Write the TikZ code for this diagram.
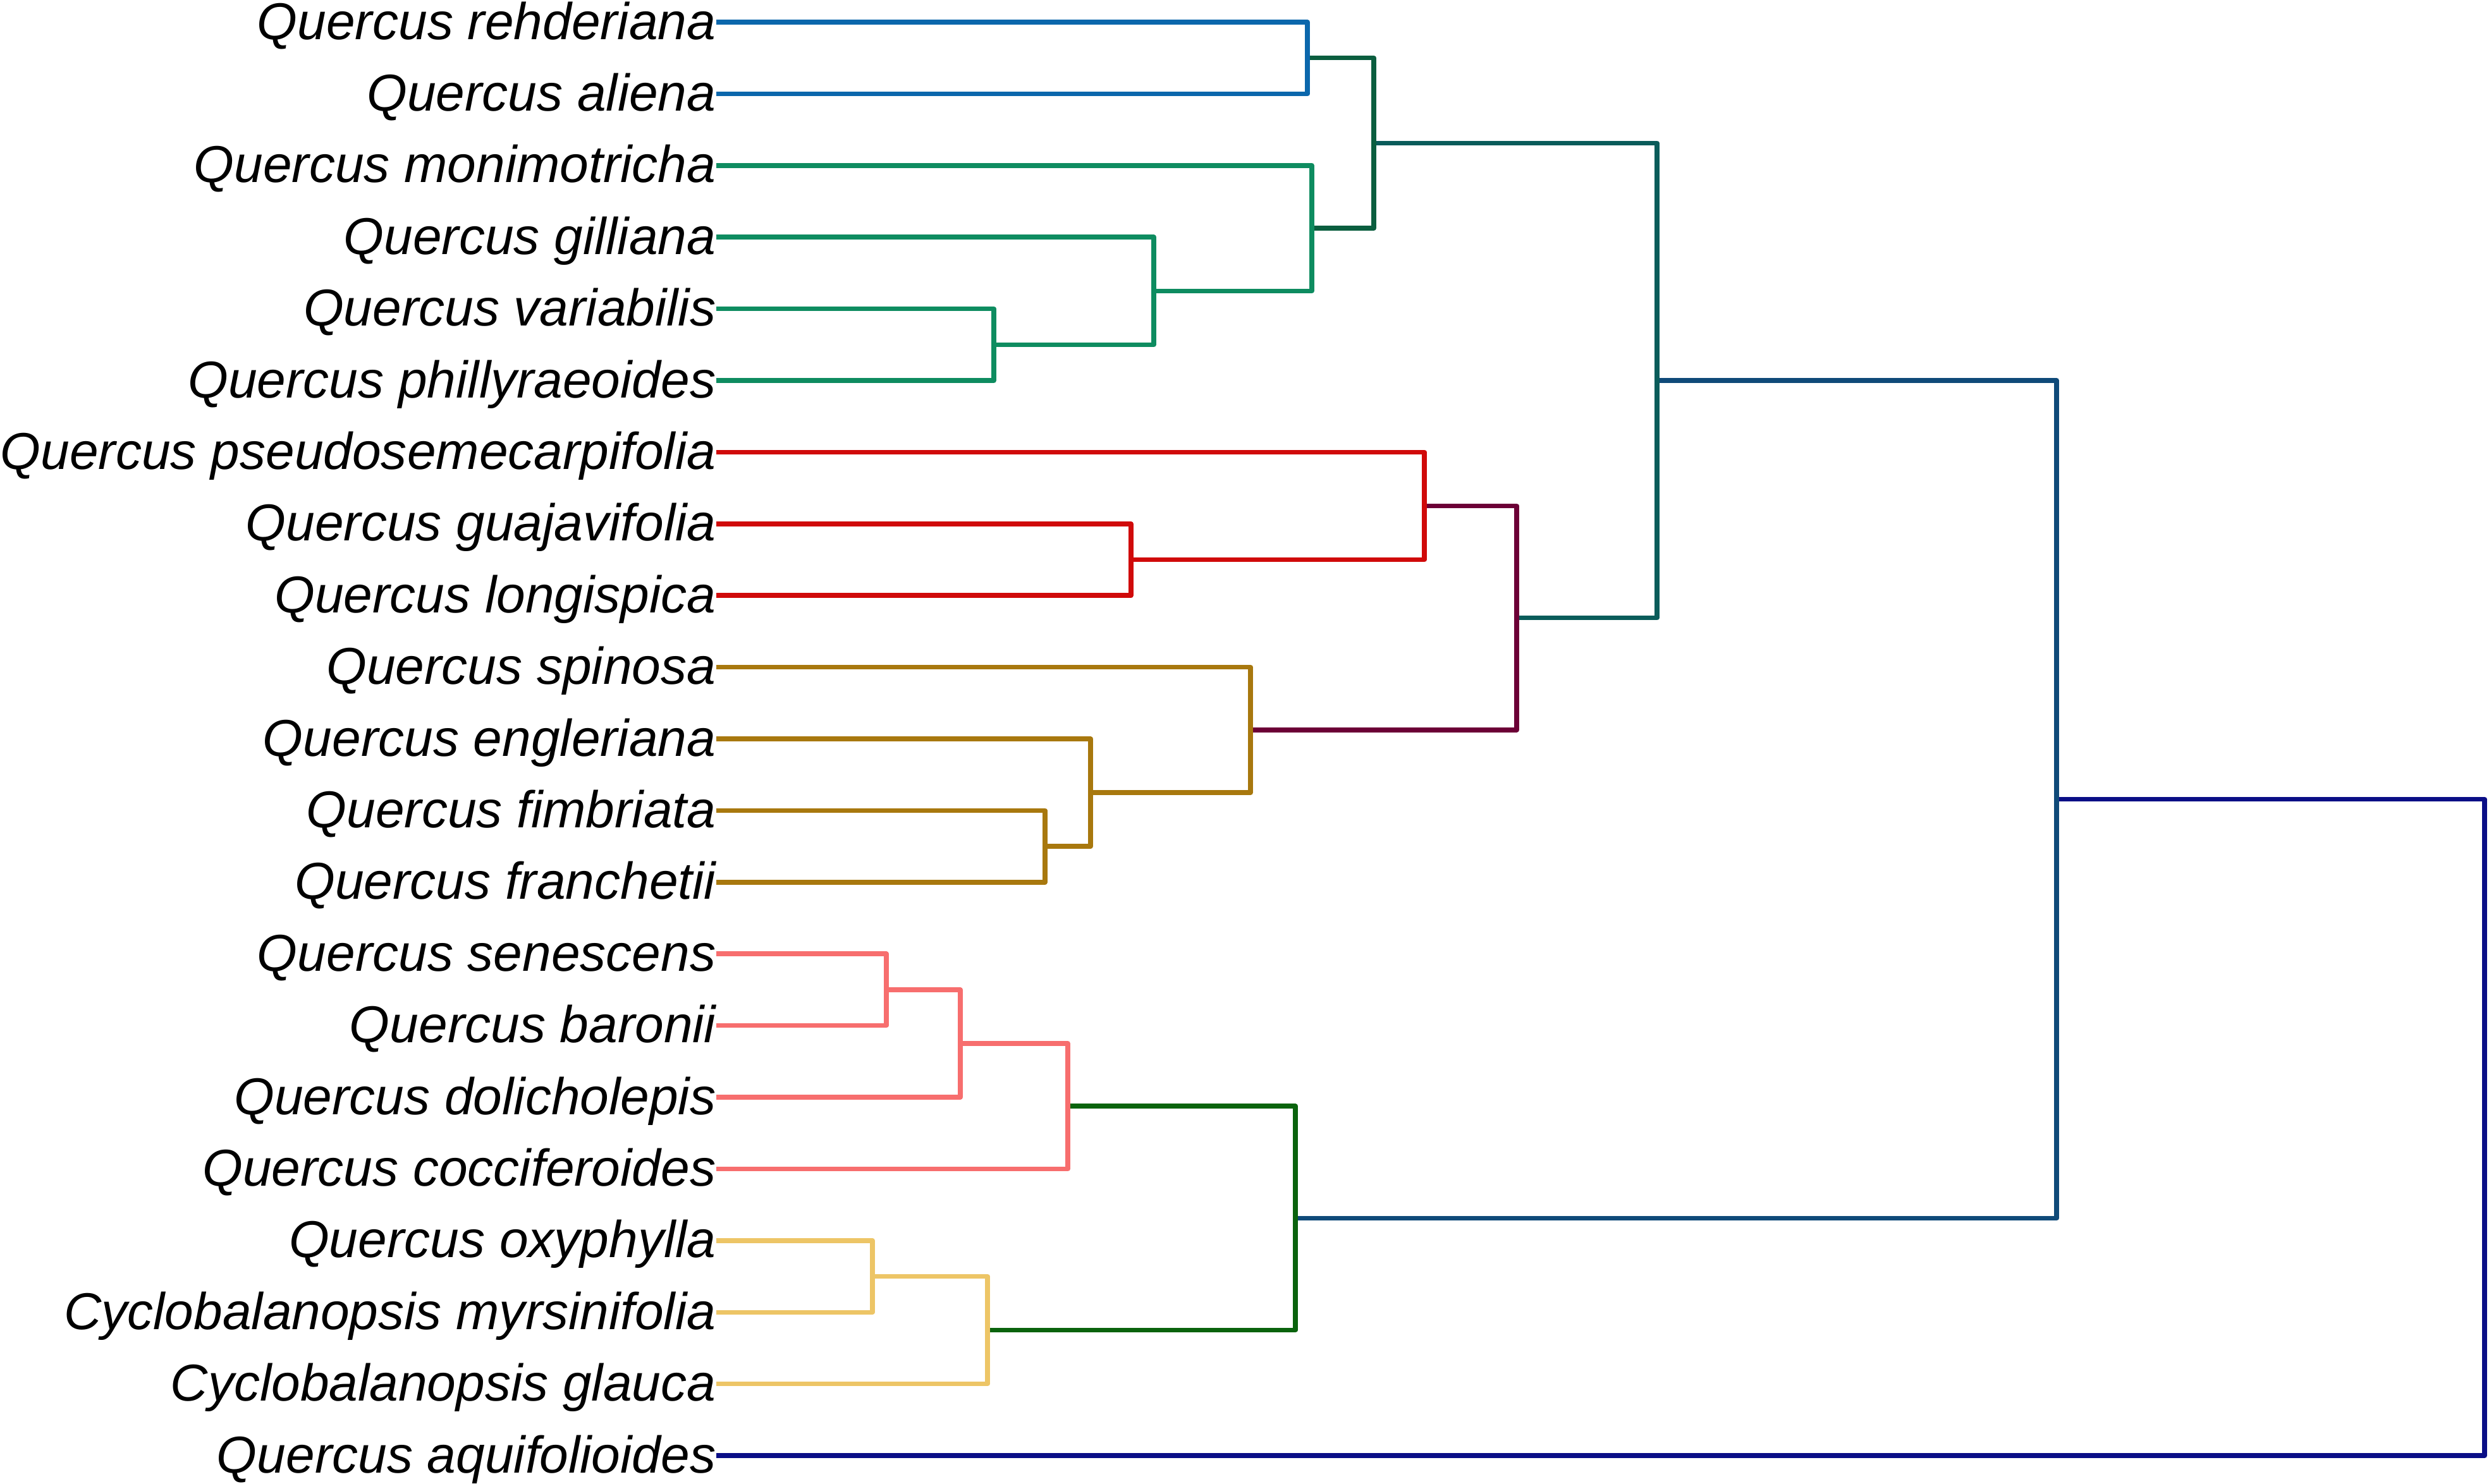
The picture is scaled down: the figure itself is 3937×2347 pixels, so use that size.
\documentclass[tikz,border=0pt]{standalone}
\usepackage{fontspec}
\setmainfont{Liberation Sans}
\definecolor{cblue}{HTML}{0B67AC}
\definecolor{cgreen}{HTML}{0E8C60}
\definecolor{cdkgreen}{HTML}{0B5E3F}
\definecolor{cteal}{HTML}{0A5C5A}
\definecolor{cred}{HTML}{D00A0A}
\definecolor{cmaroon}{HTML}{6C0036}
\definecolor{cgold}{HTML}{A8780E}
\definecolor{csalmon}{HTML}{F76E6E}
\definecolor{cyellow}{HTML}{EDC566}
\definecolor{cforest}{HTML}{0A630D}
\definecolor{cnavy}{HTML}{0F4A79}
\definecolor{croot}{HTML}{0A0E86}
\begin{document}
\begin{tikzpicture}[x=0.01cm,y=-0.01cm,
  font=\fontsize{23.34}{28}\selectfont\itshape,
  branch/.style={line width=2.13pt,line join=round},
  taxon/.style={anchor=base east,inner sep=0pt,yshift=-0.27cm}]
\useasboundingbox (0,0) rectangle (3937,2347);

% tips and labels
\foreach \i/\sp in {0/Quercus rehderiana,1/Quercus aliena,2/Quercus monimotricha,
  3/Quercus gilliana,4/Quercus variabilis,5/Quercus phillyraeoides,
  6/Quercus pseudosemecarpifolia,7/Quercus guajavifolia,8/Quercus longispica,
  9/Quercus spinosa,10/Quercus engleriana,11/Quercus fimbriata,12/Quercus franchetii,
  13/Quercus senescens,14/Quercus baronii,15/Quercus dolicholepis,16/Quercus cocciferoides,
  17/Quercus oxyphylla,18/Cyclobalanopsis myrsinifolia,19/Cyclobalanopsis glauca,
  20/Quercus aquifolioides}
{
  \coordinate (t\i) at (1133,{35+113.4*\i});
  \node[taxon] (s\i) at (t\i) {\sp};
}

% internal nodes
\coordinate (bl) at (2068,91.7);
\coordinate (gv) at (1572,545.3);
\coordinate (gg) at (1825,460.25);
\coordinate (gm) at (2075,361.0);
\coordinate (dg) at (2173,226.4);
\coordinate (ri) at (1789,885.5);
\coordinate (ro) at (2253,800.45);
\coordinate (of) at (1653,1339.1);
\coordinate (oe) at (1725,1254.05);
\coordinate (os) at (1978,1154.8);
\coordinate (mr) at (2399,977.6);
\coordinate (tl) at (2621,602.0);
\coordinate (ps) at (1402,1565.9);
\coordinate (pd) at (1519,1650.95);
\coordinate (pc) at (1689,1750.2);
\coordinate (yo) at (1380,2019.5);
\coordinate (yg) at (1562,2104.55);
\coordinate (fg) at (2049,1927.4);
\coordinate (nv) at (3253,1264.7);
\coordinate (rt) at (3930,1783.85);

% branches
\draw[branch,croot] (nv) -| (rt) |- (t20);
\draw[branch,cnavy] (tl) -| (nv) |- (fg);
\draw[branch,cteal] (dg) -| (tl) |- (mr);
\draw[branch,cdkgreen] (bl) -| (dg) |- (gm);
\draw[branch,cblue] (t0) -| (bl) |- (t1);
\draw[branch,cgreen] (t2) -| (gm) |- (gg);
\draw[branch,cgreen] (t3) -| (gg) |- (gv);
\draw[branch,cgreen] (t4) -| (gv) |- (t5);
\draw[branch,cmaroon] (ro) -| (mr) |- (os);
\draw[branch,cred] (t6) -| (ro) |- (ri);
\draw[branch,cred] (t7) -| (ri) |- (t8);
\draw[branch,cgold] (t9) -| (os) |- (oe);
\draw[branch,cgold] (t10) -| (oe) |- (of);
\draw[branch,cgold] (t11) -| (of) |- (t12);
\draw[branch,cforest] (pc) -| (fg) |- (yg);
\draw[branch,csalmon] (pd) -| (pc) |- (t16);
\draw[branch,csalmon] (ps) -| (pd) |- (t15);
\draw[branch,csalmon] (t13) -| (ps) |- (t14);
\draw[branch,cyellow] (yo) -| (yg) |- (t19);
\draw[branch,cyellow] (t17) -| (yo) |- (t18);

\end{tikzpicture}
\end{document}
